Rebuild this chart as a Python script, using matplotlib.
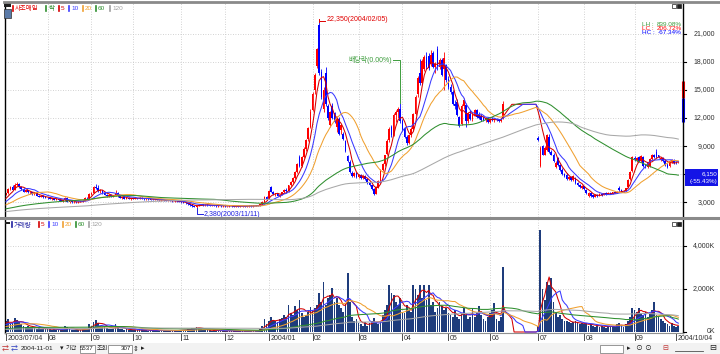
import numpy as np
import pandas as pd
import matplotlib
matplotlib.use("Agg")
import matplotlib.pyplot as plt
from matplotlib.transforms import blended_transform_factory as btf
from matplotlib.patches import Rectangle
from matplotlib.lines import Line2D

plt.rcParams['font.family'] = ['Liberation Sans', 'Noto Sans CJK KR', 'DejaVu Sans']

# ---------------- data (daily sessions 2003/07/04 .. 2004/10/04) ----------------
open_ = [
 3800,3950,4400,4600,4350,4900,5000,4600,4400,4150,4300,4050,4100,3850,3950,3700,3600,3700,3550,3500,
 3450,3400,3450,3300,3350,3200,3150,3200,3500,3050,3100,3000,3050,3000,3050,3100,3150,3500,3450,3900,
 4000,4600,4500,4200,4300,3950,3800,3700,3800,3650,3700,4000,3650,3500,3550,3400,3450,3400,3450,
 3400,3450,3400,3500,3400,3350,3400,3350,3300,3250,3300,3250,3200,3250,3200,3150,3200,3150,3100,3150,3100,
 3050,3000,2950,2900,2800,2700,2600,2500,2650,2750,2800,2700,2750,2700,2650,2700,2650,2600,2650,2600,
 2650,2600,2600,2650,2600,2550,2600,2550,2600,2600,2550,2600,2650,2600,2650,2650,2700,2800,3050,3550,3450,
 4600,4100,3850,3950,3700,3800,4050,4300,4200,4800,5200,5600,6200,7800,6900,7800,8700,9700,11000,
 12800,15000,17500,21900,16900,13000,16800,13300,11200,13300,12500,11000,11900,10700,10300,9500,7900,7300,6100,5800,
 6100,5700,5900,5600,5800,5500,5100,4800,4400,3900,4600,5200,6500,7100,8200,9600,11000,10200,12300,12600,13000,11700,
 10800,10000,9300,10200,10800,12400,14500,16800,15700,17200,18500,18600,17700,18900,17400,19300,17400,18200,17200,17600,
 16200,15300,14800,13500,13700,12100,11300,13300,13400,11700,12400,11900,12300,12800,12400,12200,12000,11800,12000,11600,
 11900,11800,11900,11800,11700,12000,
 13450,13450,13450,13450,13450,13450,13450,13450,13450,13450,13450,13450,13450,13450,13450,
 9900,6900,9000,8100,8600,10000,8400,8100,6800,
 7700,7000,6500,6000,5900,5500,5700,5400,5600,5100,4800,4500,
 4700,4300,3700,4000,3800,3600,3800,3700,3900,3800,3950,3900,4000,3900,4050,4000,4500,4300,4200,4250,4600,5500,
 6300,7700,7500,7800,7400,7800,7000,6800,6900,7600,8000,8400,8000,7500,7700,7400,7000,6900,7300,7500,7300,7250]
high = [
 4000,4500,4700,4900,5100,5150,5050,4750,4500,4350,4350,4200,4150,4000,4000,3800,3750,3750,3650,3600,
 3550,3500,3500,3400,3400,3300,3250,3600,3550,3150,3150,3100,3100,3100,3150,3200,3550,3600,4000,4100,
 4700,4950,4900,4400,4350,4050,3900,3850,3850,3750,4300,4050,3700,3600,3600,3500,3550,3500,3500,
 3500,3500,3550,3550,3450,3450,3450,3400,3350,3350,3350,3300,3300,3300,3250,3250,3250,3200,3200,3200,3150,
 3100,3050,3000,2950,2850,2750,2650,2700,2800,2850,2850,2800,2800,2750,2750,2750,2700,2700,2700,2700,
 2700,2650,2700,2700,2650,2650,2650,2650,2650,2650,2650,2700,2700,2700,2700,2750,2850,3100,3700,3700,4300,
 4700,4200,4000,4000,3850,4100,4400,4500,4900,5300,5700,6300,7200,8000,7900,8900,9800,11000,12900,
 14800,16800,19500,22350,17200,15300,17400,13500,12700,13600,12600,12200,12100,11300,10500,9600,8100,7500,6300,6200,
 6200,6000,6000,5900,5900,5600,5200,4900,4500,4700,5400,6600,7200,8100,9700,11000,11200,12500,12800,13200,13600,11900,
 11000,10200,10300,11000,12500,14400,16500,18300,18300,18700,19000,18900,19200,19100,18000,19700,18400,18400,19000,17800,
 16500,15600,15000,13900,14000,12200,13500,14100,13600,12600,12800,12500,12900,13000,12600,12400,12200,12100,12100,12000,
 12100,12000,12000,11900,12000,13800,
 13450,13450,13450,13450,13450,13450,13450,13450,13450,13450,13450,13450,13450,13450,13450,
 10100,9000,9100,9000,10300,10300,8600,8300,7400,
 7800,7100,6700,6100,6100,5800,5800,5900,5700,5200,5000,4800,
 4750,4400,4100,4100,3900,3900,3900,3950,4000,4000,4050,4050,4100,4100,4150,4200,4700,4400,4300,4550,5500,6300,
 7900,7900,7800,7900,8000,7900,7100,7300,7700,8200,8200,8700,8100,7800,7800,7600,7200,7500,7600,7600,7400,7400]
low = [
 3750,3900,4300,4300,4300,4750,4500,4300,4100,4050,4000,3900,3800,3750,3650,3550,3550,3500,3450,3400,
 3350,3300,3250,3200,3150,3100,3050,3150,3000,2950,2950,2950,2950,2950,3000,3050,3100,3350,3400,3800,
 3950,4400,4100,4000,3900,3750,3600,3600,3600,3550,3650,3600,3450,3400,3350,3350,3350,3300,3350,
 3350,3350,3350,3350,3300,3300,3300,3250,3200,3200,3200,3150,3150,3150,3100,3100,3100,3050,3050,3050,3000,
 2950,2900,2850,2750,2650,2550,2450,2380,2600,2700,2650,2650,2650,2600,2600,2600,2550,2550,2550,2550,
 2550,2550,2550,2550,2500,2500,2500,2500,2550,2500,2500,2550,2550,2550,2600,2600,2650,2750,3000,3300,3400,
 4050,3800,3700,3650,3600,3750,3950,4100,4150,4700,5100,5500,6100,6800,6800,7700,8500,9500,10900,
 12700,14600,17300,16600,14000,12600,13300,11800,11000,11900,11500,10500,10200,10300,9600,8400,7300,6100,5700,5700,
 5600,5600,5500,5500,5400,5000,4700,4300,3800,3850,4500,5100,6300,6900,8000,9400,10000,10100,11600,12000,11500,10600,
 9900,9100,9200,10000,10700,12300,14200,15500,15600,17000,17200,17100,17500,17300,16800,17100,17200,16500,15000,15800,
 15100,14500,13400,13000,12200,11000,11200,13000,11000,11500,11800,11700,12200,12000,11900,11700,11700,11600,11500,11500,
 11700,11600,11700,11600,11600,11900,
 13450,13450,13450,13450,13450,13450,13450,13450,13450,13450,13450,13450,13450,13450,13450,
 9500,6800,8000,8000,8500,8300,8000,7300,6700,
 6900,6300,5900,5700,5400,5400,5300,5300,5000,4700,4500,4400,
 4300,3900,3600,3600,3500,3550,3600,3650,3700,3750,3800,3850,3850,3850,3950,3950,4200,4100,4100,4200,4500,5400,
 6200,7400,7300,7300,7300,6800,6700,6700,6800,7500,7700,7700,7700,7400,7300,6900,6700,6800,7200,7100,7100,7150]
close = [
 3950,4400,4600,4350,4900,5000,4600,4400,4150,4300,4050,4100,3850,3950,3700,3600,3700,3550,3500,3450,
 3400,3450,3300,3350,3200,3150,3200,3500,3050,3100,3000,3050,3000,3050,3100,3150,3500,3450,3900,4000,
 4600,4500,4200,4300,3950,3800,3700,3800,3650,3700,4000,3650,3500,3550,3400,3450,3400,3450,3400,
 3450,3400,3500,3400,3350,3400,3350,3300,3250,3300,3250,3200,3250,3200,3150,3200,3150,3100,3150,3100,3050,
 3000,2950,2900,2800,2700,2600,2500,2650,2750,2800,2700,2750,2700,2650,2700,2650,2600,2650,2600,2650,
 2600,2600,2650,2600,2550,2600,2550,2600,2600,2550,2600,2650,2600,2650,2650,2700,2800,3050,3550,3400,4200,
 4100,3850,3950,3700,3800,4050,4300,4200,4800,5200,5600,6200,7100,6900,7800,8700,9600,10900,12600,
 14500,16600,19400,16800,14200,15000,13500,12000,12600,12000,11600,12000,10300,11200,9700,8500,7400,6200,5800,6100,
 5700,5900,5600,5800,5500,5100,4800,4400,3900,4600,5300,6500,7100,8000,9500,10800,10200,12300,12600,13000,11700,10800,
 10000,9300,10200,10800,12400,14200,16300,15700,18100,18500,17400,17300,18700,17400,17800,17400,18200,16600,18400,16000,
 15300,14800,13500,13300,12300,11100,13300,13900,11700,12400,11900,12300,12800,12100,12000,11800,11800,12000,11600,11900,
 11800,11900,11800,11700,11900,13450,
 13450,13450,13450,13450,13450,13450,13450,13450,13450,13450,13450,13450,13450,13450,13450,
 9600,8800,8100,8800,10200,8400,8100,7400,7200,
 7000,6400,6000,5800,5500,5700,5400,5800,5100,4800,4600,4700,
 4400,4000,4000,3700,3600,3800,3700,3900,3800,3950,3900,4000,3900,4050,4000,4150,4300,4200,4250,4500,5400,6200,
 7800,7600,7700,7400,7900,6900,6800,7200,7600,8100,7800,7800,7800,7700,7400,7000,6800,7400,7500,7200,7250,7300]
volume = [  # thousand shares
 500,600,350,400,650,550,450,350,300,250,300,200,250,200,150,200,150,150,120,150,
 120,100,150,100,90,80,100,300,250,120,100,90,80,90,100,120,200,150,350,300,
 450,550,400,300,250,300,200,150,150,120,350,250,150,120,100,150,100,100,80,
 90,80,120,100,70,80,60,70,90,60,70,50,80,60,70,60,50,80,60,70,90,
 80,90,100,120,150,180,200,250,180,120,100,90,80,70,60,80,60,50,70,60,
 50,60,40,50,60,40,50,60,50,40,50,60,50,70,60,80,150,300,600,350,500,
 700,550,500,450,600,650,800,700,1250,900,800,1200,1000,1500,900,700,800,950,1180,
 1000,1100,1250,1800,1400,2340,1250,1570,1720,2030,1400,1570,1250,1100,950,1300,2730,1400,700,500,
 600,400,350,300,450,300,400,500,650,450,350,500,800,1000,1250,2200,1800,1700,1400,1250,1600,950,
 900,1250,1000,950,2200,2000,1720,2180,1600,2180,1500,2200,1250,1400,950,1100,1400,1200,1000,1100,
 900,800,700,1000,700,600,900,1100,800,600,700,1100,700,950,1200,800,600,500,700,900,
 1000,1330,600,500,700,3000,
 0,0,0,0,0,0,0,0,0,0,0,0,0,0,0,
 300,4750,2000,1500,2340,2200,2500,1400,900,
 700,800,600,500,500,450,400,450,500,400,350,400,
 350,400,300,350,300,250,300,250,300,250,200,300,250,300,250,350,400,300,250,350,500,700,
 1100,1000,950,1100,900,800,950,700,900,1000,1400,800,700,600,500,400,350,300,400,300,250,300]

# weekly levels before the window (each week = 5 sessions), used only to warm up the moving averages
prior_close_weekly = [1700,1650,1700,1750,1700,1650,1700,1750,1800,1750,1700,1750,
                      1900,2000,2100,2050,2100,2200,2150,2200,2300,2400,2600,3300]
prior_volume_weekly = [80,80,90,80,70,80,90,80,80,90,80,80,
                       100,90,100,110,100,120,110,100,120,150,250,400]
sessions_per_week = 5

ma_periods = [5, 10, 20, 60, 120]
ma_colors = ['#d40000', '#3a3aff', '#f0a030', '#2f8f2f', '#a8a8a8']

month_tick_idx = [0, 19, 39, 58, 80, 100, 120, 140, 161, 181, 202, 221, 243, 264, 287, 306]
month_tick_labels = ['2003/07/04', '08', '09', '10', '11', '12', '2004/01', '02', '03', '04',
                     '05', '06', '07', '08', '09', '2004/10/04']
price_ticks = [3000, 6000, 9000, 12000, 15000, 18000, 21000]
# the 6,000 label is hidden behind the current-value box in the original
price_tick_labels = ['3,000', '', '9,000', '12,000', '15,000', '18,000', '21,000']
volume_ticks = [0, 2000, 4000]
volume_tick_labels = ['0K', '2,000K', '4,000K']

stock_name = '사조매임'
exdiv_idx = 180
exdiv_label = '배당락(0.00%)'
peak_date = '2004/02/05'
low_date = '2003/11/11'
cursor_price = '6,150'
cursor_change = '(-55.43%)'
range_bar_levels = [15900, 14100, 11600]   # red part top/bottom, blue part bottom

# ---------------- derived ----------------
o = np.array(open_, float); h = np.array(high, float)
l = np.array(low, float); c = np.array(close, float)
v = np.array(volume, float)
N = len(c)
x = np.arange(N)
full_c = np.concatenate([np.repeat(prior_close_weekly, sessions_per_week), c])
full_v = np.concatenate([np.repeat(prior_volume_weekly, sessions_per_week), v])

W, H = 720, 354
fig = plt.figure(figsize=(W / 100, H / 100), dpi=100)
fig.patch.set_facecolor('white')

def frame(x0, y0, x1, y1):
    return [x0 / W, 1 - y1 / H, (x1 - x0) / W, (y1 - y0) / H]

def FX(px): return px / W
def FY(py): return 1 - py / H

ax = fig.add_axes(frame(4.5, 3, 683, 217))
axv = fig.add_axes(frame(4.5, 220, 683, 333))
XL = ((4.5 - 6) / 2.19, (683 - 6) / 2.19)
for a in (ax, axv):
    a.set_xlim(*XL)
    a.set_xticks([]); a.set_yticks([])
    a.set_facecolor('white')
    for s in ('top', 'bottom'):
        a.spines[s].set_visible(False)
    for s in ('left', 'right'):
        a.spines[s].set_color('black'); a.spines[s].set_linewidth(1.0)
axv.spines['bottom'].set_visible(True)
axv.spines['bottom'].set_color('#909090'); axv.spines['bottom'].set_linewidth(0.8)

ax.set_ylim(1436, 24255)
axv.set_ylim(-47, 5209)

grid_kw = dict(color='#c4c4c4', lw=0.6, ls=(0, (1, 2)), zorder=0)
for t in price_ticks:
    ax.axhline(t, **grid_kw)
for t in volume_ticks[1:]:
    axv.axhline(t, **grid_kw)
for t in month_tick_idx[1:-1]:
    ax.axvline(t, **grid_kw); axv.axvline(t, **grid_kw)

# candles
up = c >= o
col = np.where(up, '#ff0000', '#0000ff')
ax.vlines(x, l, h, colors=col, lw=0.6, zorder=2)
ax.bar(x, np.abs(c - o), bottom=np.minimum(o, c), width=0.78, color=col, linewidth=0, zorder=2)

# moving averages
for p, mc in zip(ma_periods, ma_colors):
    ma = pd.Series(full_c).rolling(p).mean().values[-N:]
    ax.plot(x, ma, color=mc, lw=0.75, zorder=3)
    mv = pd.Series(full_v).rolling(p).mean().values[-N:]
    axv.plot(x, mv, color=mc, lw=0.75, zorder=3)

axv.bar(x, v, width=0.8, color='#1e3c7c', linewidth=0, zorder=2)

small = 5.0
# right axis labels
tr_p = btf(fig.transFigure, ax.transData)
tr_pa = btf(ax.transAxes, ax.transData)
for t, lab in zip(price_ticks, price_tick_labels):
    if lab:
        ax.text(FX(715), t, lab, transform=tr_p, ha='right', va='center', fontsize=small, color='#303030')
    ax.plot([1.0, 1.0 + 3 / 678.5], [t, t], transform=tr_pa, color='black', lw=0.8, clip_on=False)
tr_v = btf(fig.transFigure, axv.transData)
tr_va = btf(axv.transAxes, axv.transData)
for t, lab in zip(volume_ticks, volume_tick_labels):
    axv.text(FX(715), t, lab, transform=tr_v, ha='right', va='center', fontsize=small, color='#303030')
    axv.plot([1.0, 1.0 + 3 / 678.5], [t, t], transform=tr_va, color='black', lw=0.8, clip_on=False)

# x labels
tr_x = btf(axv.transData, fig.transFigure)
for t, lab in zip(month_tick_idx, month_tick_labels):
    axv.plot([t, t], [FY(333), FY(340)], transform=tr_x, color='#505050', lw=0.7, clip_on=False)
    axv.text(t + 0.7, FY(338), lab, transform=tr_x, ha='left', va='center', fontsize=small, color='#303030')

# annotations
xpp = 1 / 2.19                    # data units per pixel (x)
ypp = (24255 - 1436) / 214.0      # data units per pixel (y)
ip = int(np.argmax(h)); il = int(np.argmin(l))
ax.plot([ip, ip + 6 * xpp], [h[ip], h[ip]], color='#e00000', lw=0.7, zorder=4)
ax.plot([ip, ip], [h[ip] - ypp * 1.5, h[ip] + ypp * 1.5], color='#e00000', lw=0.7, zorder=4)
ax.text(ip + 7 * xpp, h[ip] + ypp, f'{int(h[ip]):,}({peak_date})', color='#e00000', fontsize=small,
        ha='left', va='center', zorder=4)
ax.plot([il, il, il + 6 * xpp], [l[il], l[il] - 6 * ypp, l[il] - 6 * ypp], color='#2020e0', lw=0.7, zorder=4)
ax.text(il + 7 * xpp, l[il] - 6 * ypp, f'{int(l[il]):,}({low_date})', color='#2020e0', fontsize=small,
        ha='left', va='center', zorder=4)
ey = h[exdiv_idx] + 43 * ypp
ax.plot([exdiv_idx, exdiv_idx, exdiv_idx - 7 * xpp], [h[exdiv_idx], ey, ey], color='#3c9c3c', lw=0.7, zorder=4)
ax.text(exdiv_idx - 8 * xpp, ey, exdiv_label, color='#3c9c3c', fontsize=small, ha='right', va='center', zorder=4)

# LH / LC / HC statistics
LH = (h.max() / l.min() - 1) * 100
LC = (c[-1] / l.min() - 1) * 100
HC = (c[-1] / h.max() - 1) * 100
for k, (nm, val, cc) in enumerate([('LH', LH, '#3c9c3c'), ('LC', LC, '#ff0000'), ('HC', HC, '#0000ff')]):
    yy = 24 + 4.3 * k
    fig.text(FX(642), FY(yy), f'{nm} :', color=cc, fontsize=4.6, ha='left', va='center')
    fig.text(FX(682), FY(yy), f'{val:.2f}%', color=cc, fontsize=4.6, ha='right', va='center')

# right-edge range bar
ax.plot([1.0, 1.0], range_bar_levels[:2], transform=tr_pa, color='#ff0000', lw=2.2, clip_on=False, solid_capstyle='butt')
ax.plot([1.0, 1.0], range_bar_levels[1:], transform=tr_pa, color='#0000ff', lw=2.2, clip_on=False, solid_capstyle='butt')

# current-value box
fig.patches.append(Rectangle((FX(685), FY(186)), FX(718) - FX(685), FY(169) - FY(186),
                             transform=fig.transFigure, facecolor='#1414e6', edgecolor='none'))
fig.text(FX(717), FY(173.3), cursor_price, color='white', fontsize=4.5, ha='right', va='center')
fig.text(FX(717), FY(181.7), cursor_change, color='white', fontsize=4.5, ha='right', va='center')

# frame lines
fig.add_artist(Line2D([FX(4), FX(720)], [FY(1.5), FY(1.5)], color='#8a8a8a', lw=2.0))
fig.add_artist(Line2D([0, 1], [FY(218.5), FY(218.5)], color='#8a8a8a', lw=2.2))

# legends
def legend(items, y):
    for xp, txt, cc in items:
        fig.add_artist(Line2D([FX(xp), FX(xp)], [FY(y - 2.5), FY(y + 2.5)], color=cc, lw=1.2))
        fig.text(FX(xp + 2), FY(y), txt, color=cc, fontsize=4.6, ha='left', va='center')

legend([(13, stock_name, '#e00000'), (46, '락', '#2f8f2f'), (59, '5', '#d40000'), (69, '10', '#3a3aff'),
        (83, '20', '#f0a030'), (96, '60', '#2f8f2f'), (110, '120', '#a0a0a0')], 8)
legend([(12, '거래량', '#2020a0'), (39, '5', '#d40000'), (49, '10', '#3a3aff'),
        (63, '20', '#f0a030'), (76, '60', '#2f8f2f'), (89, '120', '#a0a0a0')], 224.5)

# icons
fig.patches.append(Rectangle((FX(4), FY(7)), FX(7), FY(3) - FY(7), transform=fig.transFigure, facecolor='#202020'))
fig.patches.append(Rectangle((FX(4), FY(18)), FX(7), FY(9) - FY(18), transform=fig.transFigure,
                             facecolor='#5a7aa8', edgecolor='#303030', lw=0.5))
fig.patches.append(Rectangle((FX(5), FY(224)), FX(5), FY(222) - FY(224), transform=fig.transFigure, facecolor='#202020'))
for yy in (5, 223):
    fig.patches.append(Rectangle((FX(672), FY(yy + 3)), FX(4), FY(yy - 1) - FY(yy + 3), transform=fig.transFigure,
                                 facecolor='white', edgecolor='#202020', lw=0.5))
    fig.patches.append(Rectangle((FX(677), FY(yy + 3)), FX(4), FY(yy - 1) - FY(yy + 3), transform=fig.transFigure,
                                 facecolor='#202020', edgecolor='#202020', lw=0.5))

# bottom toolbar
ty = 349
fig.patches.append(Rectangle((0, 0), 1, FY(343), transform=fig.transFigure, facecolor='#f2f2f2', edgecolor='none', zorder=-5))
fig.text(FX(2), FY(ty), '⇄', color='#c03030', fontsize=5, va='center')
fig.text(FX(11), FY(ty), '⇄', color='#3040c0', fontsize=5, va='center')
fig.text(FX(21), FY(ty), '2004-11-01', color='#202020', fontsize=4.6, va='center')
fig.text(FX(60), FY(ty), '▾', color='#202020', fontsize=5, va='center')
fig.text(FX(66), FY(ty), '기간', color='#202020', fontsize=4.4, va='center')
for (x0, x1, txt) in [(80, 95, '5537'), (108, 132, '307'), (600, 623, '')]:
    fig.patches.append(Rectangle((FX(x0), FY(353)), FX(x1 - x0), FY(345) - FY(353), transform=fig.transFigure,
                                 facecolor='white', edgecolor='#707070', lw=0.5))
    if txt:
        fig.text(FX(x1 - 1), FY(ty), txt, color='#202020', fontsize=4.4, ha='right', va='center')
fig.text(FX(97), FY(ty), '조회', color='#202020', fontsize=4.4, va='center')
fig.text(FX(133), FY(ty), '⇕', color='#202020', fontsize=5, va='center')
fig.text(FX(141), FY(ty), '▸', color='#202020', fontsize=5, va='center')
fig.text(FX(627), FY(ty), '▸', color='#202020', fontsize=5, va='center')
fig.text(FX(636), FY(ty), '⊙ ⊙', color='#202020', fontsize=5, va='center')
fig.text(FX(662), FY(ty), '⊟', color='#c03030', fontsize=5, va='center')
fig.add_artist(Line2D([FX(675), FX(703)], [FY(351), FY(351)], color='#505050', lw=0.6))
fig.text(FX(709), FY(ty), '⊟', color='#202020', fontsize=6, va='center')

fig.savefig('out.png', dpi=100)
